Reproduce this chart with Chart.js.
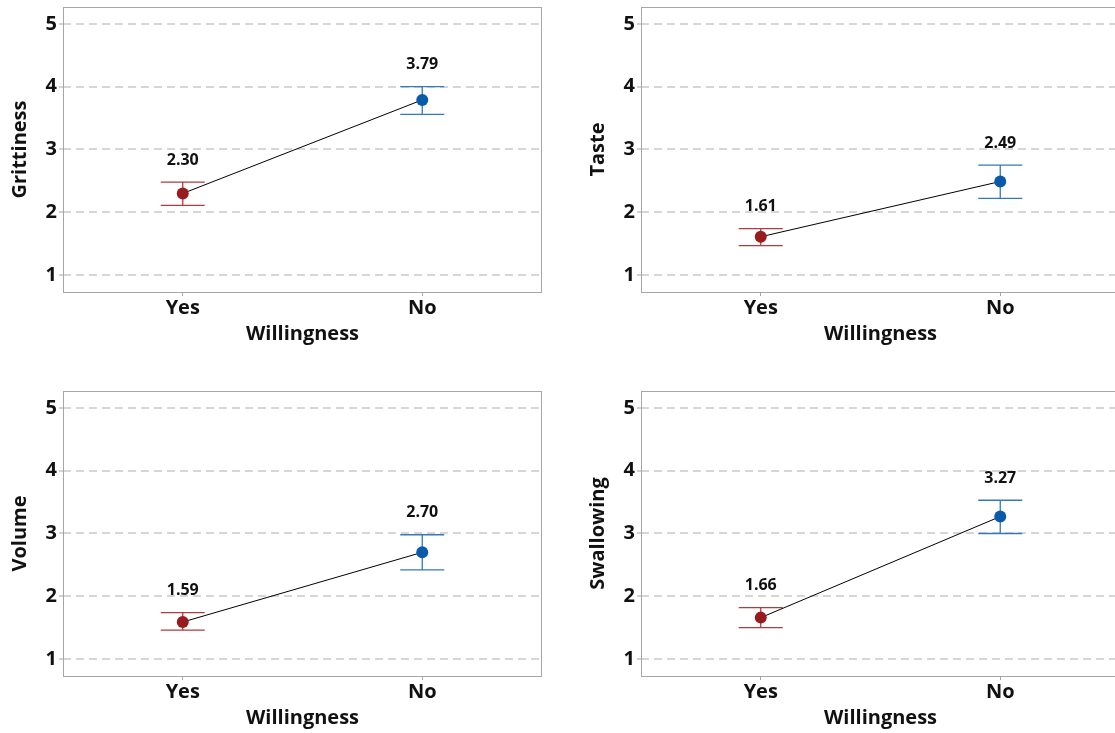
<!DOCTYPE html>
<html>
<head>
<meta charset="utf-8">
<script src="https://cdn.jsdelivr.net/npm/chart.js@4"></script>
<style>
  html, body { margin: 0; padding: 0; background: #fff; overflow: hidden; width: 1115px; height: 733px; }
  canvas { position: absolute; }
</style>
</head>
<body>
<canvas id="c1" width="578" height="384" style="left:0;top:0"></canvas>
<canvas id="c2" width="578" height="384" style="left:578px;top:0"></canvas>
<canvas id="c3" width="578" height="384" style="left:0;top:384px"></canvas>
<canvas id="c4" width="578" height="384" style="left:578px;top:384px"></canvas>
<script>
const groups = ['Yes', 'No'];
const yTicks = [1, 2, 3, 4, 5];

const grittinessMean = [2.30, 3.79];
const grittinessLow = [2.11, 3.56];
const grittinessHigh = [2.48, 4.00];

const tasteMean = [1.61, 2.49];
const tasteLow = [1.47, 2.22];
const tasteHigh = [1.74, 2.75];

const volumeMean = [1.59, 2.70];
const volumeLow = [1.46, 2.42];
const volumeHigh = [1.74, 2.98];

const swallowingMean = [1.66, 3.27];
const swallowingLow = [1.50, 3.00];
const swallowingHigh = [1.82, 3.53];

const FONT = "'Open Sans', 'DejaVu Sans', sans-serif";
const pointColors = ['#981b1e', '#0a5aab'];
const barColors = ['#b53a3c', '#3479c0'];

// frame, error bars and value labels
const extras = {
  id: 'extras',
  beforeDatasetsDraw(chart, args, opts) {
    const { ctx, chartArea: a, scales: { x, y } } = chart;
    ctx.save();
    ctx.strokeStyle = '#a6a6a6';
    ctx.lineWidth = 1;
    ctx.strokeRect(a.left + 0.5, a.top + 0.5, a.right - a.left - 1, a.bottom - a.top);
    ctx.lineWidth = 1.3;
    opts.low.forEach((lo, i) => {
      const px = x.getPixelForValue(i);
      const yl = y.getPixelForValue(lo);
      const yh = y.getPixelForValue(opts.high[i]);
      ctx.strokeStyle = barColors[i];
      ctx.beginPath();
      ctx.moveTo(px, yl); ctx.lineTo(px, yh);
      ctx.moveTo(px - 22, yl); ctx.lineTo(px + 22, yl);
      ctx.moveTo(px - 22, yh); ctx.lineTo(px + 22, yh);
      ctx.stroke();
    });
    ctx.restore();
  },
  afterDatasetsDraw(chart, args, opts) {
    const { ctx, scales: { x, y } } = chart;
    ctx.save();
    ctx.fillStyle = '#111';
    ctx.font = 'bold 16px ' + FONT;
    ctx.textAlign = 'center';
    ctx.textBaseline = 'middle';
    opts.mean.forEach((m, i) => {
      ctx.fillText(m.toFixed(2), x.getPixelForValue(i), y.getPixelForValue(opts.high[i]) - 22);
    });
    ctx.restore();
  }
};

function makeChart(id, title, mean, low, high) {
  new Chart(document.getElementById(id), {
    type: 'line',
    data: {
      datasets: [{
        data: mean.map((m, i) => ({ x: i, y: m })),
        borderColor: '#000',
        borderWidth: 1,
        pointRadius: 6,
        pointBackgroundColor: pointColors,
        pointBorderWidth: 0,
        tension: 0
      }]
    },
    options: {
      responsive: false,
      animation: false,
      layout: { padding: { left: 0, top: 7, right: 36, bottom: 0 } },
      plugins: {
        legend: { display: false },
        tooltip: { enabled: false },
        extras: { mean: mean, low: low, high: high }
      },
      scales: {
        x: {
          type: 'linear',
          min: -0.5,
          max: 1.5,
          afterBuildTicks: s => { s.ticks = groups.map((g, i) => ({ value: i })); },
          afterFit: s => { s.height = 92; s.paddingLeft = 0; s.paddingRight = 0; },
          ticks: {
            callback: v => groups[v],
            color: '#111',
            padding: 0,
            font: { family: FONT, size: 20, weight: 'bold' }
          },
          grid: { drawOnChartArea: false, tickLength: 4, tickColor: '#a6a6a6' },
          border: { display: false },
          title: {
            display: true,
            text: 'Willingness',
            color: '#111',
            padding: { top: 0, bottom: 38 },
            font: { family: FONT, size: 20, weight: 'bold' }
          }
        },
        y: {
          min: 0.73,
          max: 5.27,
          afterBuildTicks: s => { s.ticks = yTicks.map(v => ({ value: v })); },
          afterFit: s => { s.width = 63; s.paddingTop = 0; s.paddingBottom = 0; },
          ticks: {
            color: '#111',
            padding: 2,
            font: { family: FONT, size: 20, weight: 'bold' }
          },
          grid: {
            color: '#d6d6d6',
            lineWidth: 2,
            borderDash: [8, 5],
            tickLength: 4,
            tickColor: '#a6a6a6',
            tickWidth: 1,
            tickBorderDash: []
          },
          border: { display: false, dash: [8, 5] },
          title: {
            display: true,
            text: title,
            color: '#111',
            padding: { top: 8, bottom: 0 },
            font: { family: FONT, size: 20, weight: 'bold' }
          }
        }
      }
    },
    plugins: [extras]
  });
}

makeChart('c1', 'Grittiness', grittinessMean, grittinessLow, grittinessHigh);
makeChart('c2', 'Taste', tasteMean, tasteLow, tasteHigh);
makeChart('c3', 'Volume', volumeMean, volumeLow, volumeHigh);
makeChart('c4', 'Swallowing', swallowingMean, swallowingLow, swallowingHigh);
</script>
</body>
</html>
